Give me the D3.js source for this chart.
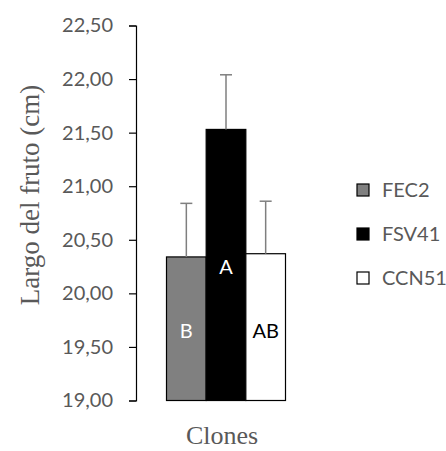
<!DOCTYPE html>
<html>
<head>
<meta charset="utf-8">
<script src="https://cdn.jsdelivr.net/npm/d3@7"></script>
<style>
  body { margin: 0; background: #fff; }
  svg { display: block; }
</style>
</head>
<body>
<svg id="chart" width="446" height="451"></svg>
<script>
// data
var clones = ["FEC2", "FSV41", "CCN51"];
var means = [20.34, 21.53, 20.37];
var errors = [0.50, 0.51, 0.49];
var letters = ["B", "A", "AB"];
var fills = ["#808080", "#000000", "#ffffff"];
var letterColors = ["#ffffff", "#ffffff", "#000000"];
var yTicks = [19, 19.5, 20, 20.5, 21, 21.5, 22, 22.5];

var sansFont = "Lato, 'Open Sans', sans-serif";
var serifFont = "'Liberation Serif', serif";

var svg = d3.select("#chart");

var y = d3.scaleLinear().domain([19, 22.5]).range([400.5, 25.5]);
var x = d3.scaleBand().domain(clones).range([166.5, 285.5]).padding(0);

var fmt = function(d) { return d3.format(".2f")(d).replace(".", ","); };

// y axis
var yAxis = d3.axisLeft(y).tickValues(yTicks).tickSize(7).tickPadding(16).tickFormat(fmt);
var gy = svg.append("g").attr("transform", "translate(136,0)").call(yAxis);
gy.select(".domain").attr("stroke", "#000").attr("stroke-width", 1.2);
gy.selectAll(".tick line").attr("stroke", "#000").attr("stroke-width", 1.2);
gy.selectAll(".tick text")
  .attr("fill", "#595959")
  .style("font-family", sansFont)
  .style("font-size", "20px");

var rows = clones.map(function(c, i) {
  return { name: c, mean: means[i], err: errors[i], letter: letters[i], fill: fills[i], lc: letterColors[i] };
});

// bars
svg.append("g").selectAll("rect")
  .data(rows)
  .enter().append("rect")
  .attr("x", function(d) { return x(d.name); })
  .attr("y", function(d) { return y(d.mean); })
  .attr("width", x.bandwidth())
  .attr("height", function(d) { return y(19) - y(d.mean); })
  .attr("fill", function(d) { return d.fill; })
  .attr("stroke", "#000")
  .attr("stroke-width", 1.2);

// error bars
var eb = svg.append("g").selectAll("g")
  .data(rows)
  .enter().append("g");
eb.append("line")
  .attr("x1", function(d) { return x(d.name) + x.bandwidth() / 2; })
  .attr("x2", function(d) { return x(d.name) + x.bandwidth() / 2; })
  .attr("y1", function(d) { return y(d.mean); })
  .attr("y2", function(d) { return y(d.mean + d.err); })
  .attr("stroke", "#7f7f7f")
  .attr("stroke-width", 1.5);
eb.append("line")
  .attr("x1", function(d) { return x(d.name) + x.bandwidth() / 2 - 6; })
  .attr("x2", function(d) { return x(d.name) + x.bandwidth() / 2 + 6; })
  .attr("y1", function(d) { return y(d.mean + d.err); })
  .attr("y2", function(d) { return y(d.mean + d.err); })
  .attr("stroke", "#7f7f7f")
  .attr("stroke-width", 1.5);

// letters inside bars
svg.append("g").selectAll("text")
  .data(rows)
  .enter().append("text")
  .attr("x", function(d) { return x(d.name) + x.bandwidth() / 2; })
  .attr("y", function(d, i) { return i === 1 ? 267 : 331; })
  .attr("dy", "0.35em")
  .attr("text-anchor", "middle")
  .attr("fill", function(d) { return d.lc; })
  .style("font-family", sansFont)
  .style("font-size", "20px")
  .text(function(d) { return d.letter; });

// axis titles
svg.append("text")
  .attr("transform", "translate(30,195) rotate(-90)")
  .attr("text-anchor", "middle")
  .attr("dy", "0.35em")
  .attr("fill", "#595959")
  .style("font-family", serifFont)
  .style("font-size", "27px")
  .text("Largo del fruto (cm)");

svg.append("text")
  .attr("x", 222)
  .attr("y", 444)
  .attr("text-anchor", "middle")
  .attr("fill", "#595959")
  .style("font-family", serifFont)
  .style("font-size", "26px")
  .text("Clones");

// legend
var legend = svg.append("g").selectAll("g")
  .data(rows)
  .enter().append("g")
  .attr("transform", function(d, i) { return "translate(357," + (190 + i * 44) + ")"; });
legend.append("rect")
  .attr("x", 0).attr("y", -6)
  .attr("width", 12).attr("height", 12)
  .attr("fill", function(d) { return d.fill; })
  .attr("stroke", "#000")
  .attr("stroke-width", 1.2);
legend.append("text")
  .attr("x", 25)
  .attr("dy", "0.35em")
  .attr("fill", "#595959")
  .style("font-family", sansFont)
  .style("font-size", "20px")
  .text(function(d) { return d.name; });
</script>
</body>
</html>
